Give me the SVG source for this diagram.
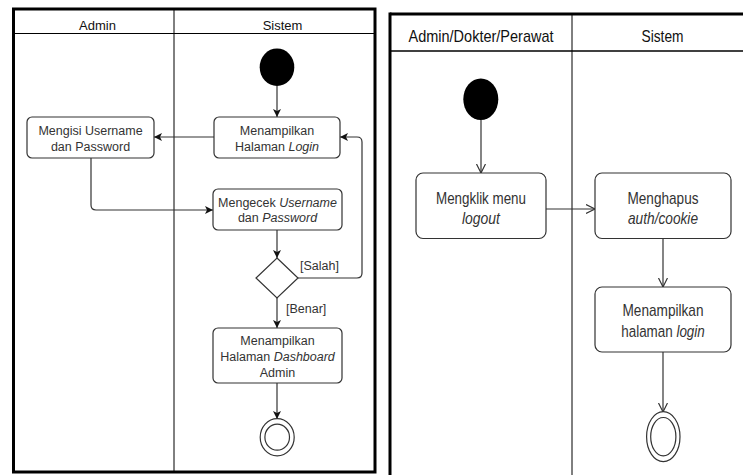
<svg xmlns="http://www.w3.org/2000/svg" width="743" height="475" viewBox="0 0 743 475">
<style>
.lane{fill:none;stroke:#000}
.node{fill:#fff;stroke:#333;stroke-width:1.2}
.lt{font-family:"Liberation Sans",Arial,sans-serif;font-size:12.5px;fill:#333;text-anchor:middle}
.lh{font-family:"Liberation Sans",Arial,sans-serif;font-size:13px;fill:#111;text-anchor:middle}
.rt{font-family:"Liberation Sans",Arial,sans-serif;font-size:17px;fill:#333;text-anchor:middle}
.rh{font-family:"Liberation Sans",Arial,sans-serif;font-size:17px;fill:#111;text-anchor:middle}
.gl{font-family:"Liberation Sans",Arial,sans-serif;font-size:12.5px;fill:#333}
.cl{fill:none;stroke:#333;stroke-width:1.2}
.cr{fill:none;stroke:#333;stroke-width:1.2}
</style>
<defs>
<marker id="blk" markerUnits="userSpaceOnUse" markerWidth="10" markerHeight="10" refX="8" refY="4" orient="auto">
<path d="M0,0 L8,4 L0,8 L2,4 Z" fill="#111"/>
</marker>
<marker id="opn" markerUnits="userSpaceOnUse" markerWidth="12" markerHeight="12" refX="9" refY="5" orient="auto">
<path d="M0,0.5 L9,5 L0,9.5" fill="none" stroke="#333" stroke-width="1.2"/>
</marker>
</defs>
<rect width="743" height="475" fill="#fff"/>

<g id="lanes-left">
<rect class="lane" x="13.5" y="9" width="361.5" height="463" stroke-width="3"/>
<line class="lane" x1="13.5" y1="33.5" x2="375" y2="33.5" stroke-width="1"/>
<line class="lane" x1="174" y1="9" x2="174" y2="472" stroke-width="1"/>
<text class="lh" x="97.5" y="29.5">Admin</text>
<text class="lh" x="282.5" y="29.5">Sistem</text>
</g>

<g id="lanes-right">
<line class="lane" x1="390" y1="14" x2="743" y2="14" stroke-width="3"/>
<line class="lane" x1="390" y1="12.5" x2="390" y2="475" stroke-width="3"/>
<line class="lane" x1="390" y1="51" x2="743" y2="51" stroke-width="1.5"/>
<line class="lane" x1="572" y1="14" x2="572" y2="475" stroke-width="1"/>
<text class="rh" x="481" y="41.5" textLength="145" lengthAdjust="spacingAndGlyphs">Admin/Dokter/Perawat</text>
<text class="rh" x="662.5" y="41.5" textLength="42" lengthAdjust="spacingAndGlyphs">Sistem</text>
</g>

<g id="connectors">
<line class="cl" x1="277" y1="86" x2="277" y2="117" marker-end="url(#blk)"/>
<line class="cl" x1="214" y1="137" x2="154" y2="137" marker-end="url(#blk)"/>
<path class="cl" d="M91,158 V205 Q91,210 96,210 H213" marker-end="url(#blk)"/>
<line class="cl" x1="277" y1="230" x2="277" y2="258" marker-end="url(#blk)"/>
<path class="cl" d="M298,278 H357 Q362,278 362,273 V142 Q362,137 357,137 H340" marker-end="url(#blk)"/>
<line class="cl" x1="277" y1="298" x2="277" y2="328" marker-end="url(#blk)"/>
<line class="cl" x1="277" y1="383" x2="277" y2="419" marker-end="url(#blk)"/>
<text class="gl" x="300" y="270">[Salah]</text>
<text class="gl" x="286" y="313">[Benar]</text>

<line class="cr" x1="481" y1="120" x2="481" y2="173" marker-end="url(#opn)"/>
<line class="cr" x1="546" y1="209" x2="595" y2="209" marker-end="url(#opn)"/>
<line class="cr" x1="663" y1="238.5" x2="663" y2="287" marker-end="url(#opn)"/>
<line class="cr" x1="663" y1="352" x2="663" y2="412" marker-end="url(#opn)"/>
</g>

<g id="start-left"><ellipse cx="277" cy="67.2" rx="17.3" ry="18.8" fill="#000"/></g>
<g id="login-page">
<rect class="node" x="214" y="117" width="126" height="41" rx="5"/>
<text class="lt" x="277" y="135">Menampilkan</text>
<text class="lt" x="277" y="151">Halaman <tspan font-style="italic">Login</tspan></text>
</g>
<g id="fill-credentials">
<rect class="node" x="27" y="117" width="127" height="41" rx="5"/>
<text class="lt" x="90.5" y="135">Mengisi Username</text>
<text class="lt" x="90.5" y="151">dan Password</text>
</g>
<g id="check-credentials">
<rect class="node" x="213" y="189" width="129" height="41" rx="5"/>
<text class="lt" x="277.5" y="206.5">Mengecek <tspan font-style="italic">Username</tspan></text>
<text class="lt" x="277.5" y="222.3">dan <tspan font-style="italic">Password</tspan></text>
</g>
<g id="decision"><path d="M277,258 L298,278 L277,298 L256,278 Z" class="node"/></g>
<g id="dashboard">
<rect class="node" x="213" y="328" width="129" height="55" rx="5"/>
<text class="lt" x="277.5" y="345">Menampilkan</text>
<text class="lt" x="277.5" y="360.7">Halaman <tspan font-style="italic">Dashboard</tspan></text>
<text class="lt" x="277.5" y="376.7">Admin</text>
</g>
<g id="end-left">
<ellipse cx="277.2" cy="437.2" rx="17" ry="18.6" fill="#fff" stroke="#333" stroke-width="1.2"/>
<ellipse cx="277.2" cy="437.2" rx="12.3" ry="13" fill="#fff" stroke="#333" stroke-width="1.2"/>
</g>

<g id="start-right"><ellipse cx="480.8" cy="99.2" rx="17.5" ry="20.8" fill="#000"/></g>
<g id="click-logout">
<rect class="node" x="416" y="173" width="130" height="65.5" rx="7"/>
<text class="rt" x="481" y="204" textLength="90" lengthAdjust="spacingAndGlyphs">Mengklik menu</text>
<text class="rt" x="481" y="224" font-style="italic" textLength="38" lengthAdjust="spacingAndGlyphs">logout</text>
</g>
<g id="delete-auth">
<rect class="node" x="595" y="173" width="136" height="65.5" rx="7"/>
<text class="rt" x="663" y="204" textLength="71" lengthAdjust="spacingAndGlyphs">Menghapus</text>
<text class="rt" x="663" y="224" font-style="italic" textLength="70" lengthAdjust="spacingAndGlyphs">auth/cookie</text>
</g>
<g id="show-login">
<rect class="node" x="595" y="287" width="136" height="65" rx="7"/>
<text class="rt" x="663" y="316" textLength="81" lengthAdjust="spacingAndGlyphs">Menampilkan</text>
<text class="rt" transform="translate(663,337) scale(0.79,1)" x="0" y="0">halaman <tspan font-style="italic">login</tspan></text>
</g>
<g id="end-right">
<ellipse cx="663.3" cy="436.7" rx="16.7" ry="25" fill="#fff" stroke="#333" stroke-width="1.2"/>
<ellipse cx="663.3" cy="436.7" rx="12.6" ry="19.2" fill="#fff" stroke="#333" stroke-width="1.2"/>
</g>
</svg>
